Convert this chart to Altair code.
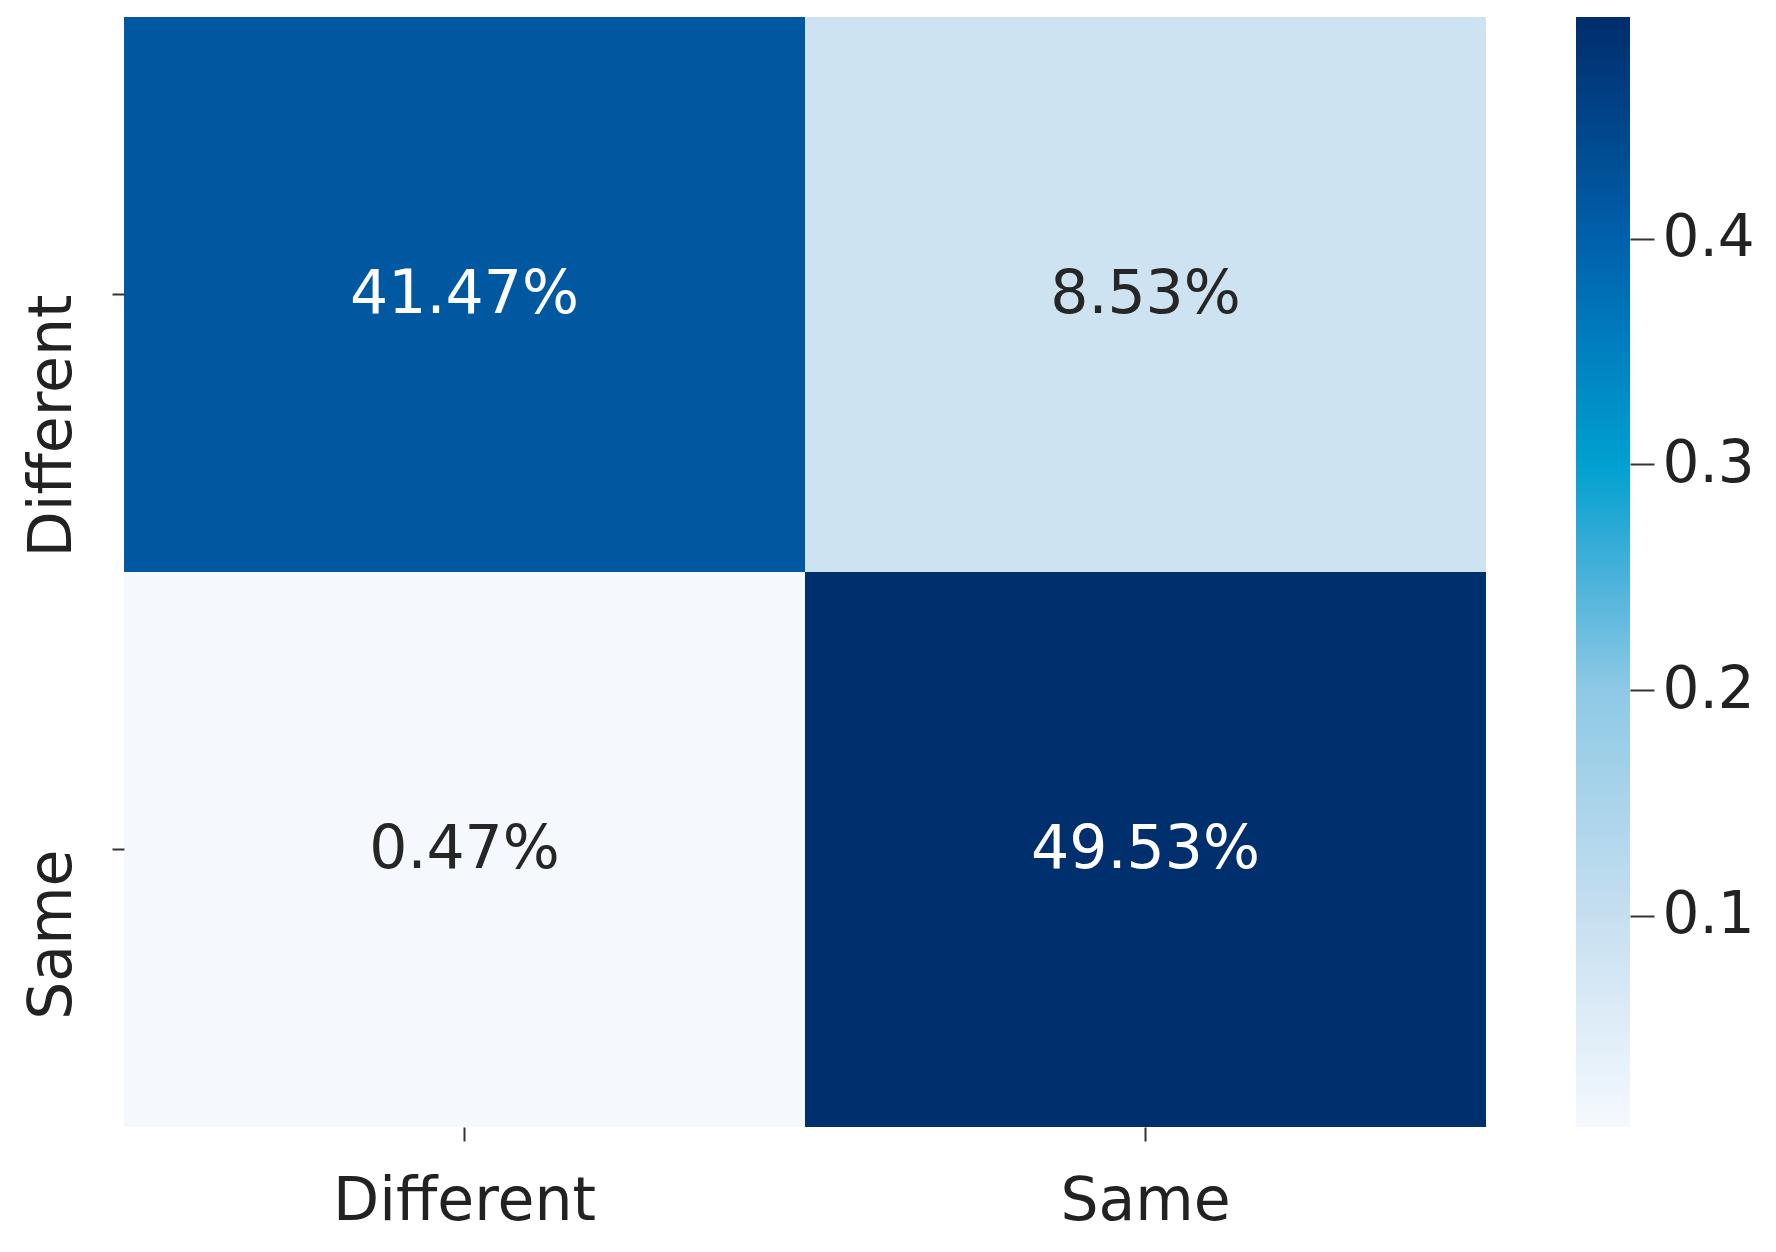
import altair as alt
import pandas as pd

# Confusion matrix (row = true, column = predicted), fractions of total
row_labels = ["Different", "Different", "Same", "Same"]
col_labels = ["Different", "Same", "Different", "Same"]
values = [0.4147, 0.0853, 0.0047, 0.4953]
categories = ["Different", "Same"]
cbar_ticks = [0.1, 0.2, 0.3, 0.4]
cbar_limits = [0.0065, 0.4982]  # colour bar range

df = pd.DataFrame({"row": row_labels, "col": col_labels, "value": values})
vmin, vmax = cbar_limits
cb = pd.DataFrame({"lo": [vmin], "hi": [vmax]})

# colour map (saturated "Blues")
cmap_vals = [vmin, 0.1, 0.2, 0.25, 0.3, 0.35, 0.4, vmax]
cmap_cols = ["#f5f9fe", "#c6dff0", "#8ec9e5", "#4ab2da", "#00a0d0", "#0080c0", "#0060ab", "#002d6b"]

FONT = "DejaVu Sans"
W, H = 1362, 1110

color_scale = alt.Scale(domain=cmap_vals, range=cmap_cols, interpolate="rgb", clamp=True)

base = alt.Chart(df).encode(
    x=alt.X("col:N", sort=categories, title=None,
            axis=alt.Axis(labelAngle=0, labelFontSize=60, labelFont=FONT, labelColor="#222",
                          tickSize=14, tickColor="#333", tickWidth=2, domain=False,
                          labelPadding=31, labelLimit=0)),
    y=alt.Y("row:N", sort=categories, title=None,
            axis=alt.Axis(labelAngle=270, labelAlign="right", labelFontSize=60, labelFont=FONT,
                          labelColor="#222", tickSize=12, tickColor="#333", tickWidth=2,
                          domain=False, labelPadding=29, labelLimit=0)),
)

rects = base.mark_rect(stroke=None).encode(
    color=alt.Color("value:Q", scale=color_scale, legend=None)
)
texts = base.mark_text(font=FONT, fontSize=60).encode(
    text=alt.Text("value:Q", format=".2%"),
    color=alt.condition(alt.datum.value > 0.25, alt.value("#ffffff"), alt.value("#262626")),
)
heat = alt.layer(rects, texts).properties(width=W, height=H)

stops = [alt.GradientStop(offset=(v - vmin) / (vmax - vmin), color=c) for v, c in zip(cmap_vals, cmap_cols)]
grad = alt.LinearGradient(gradient="linear", stops=stops, x1=0, x2=0, y1=1, y2=0)

cbar = alt.Chart(cb).mark_rect(color=grad).encode(
    y=alt.Y("lo:Q", scale=alt.Scale(domain=[vmin, vmax], nice=False, zero=False), title=None,
            axis=alt.Axis(orient="right", values=cbar_ticks, format=".1f", labelFontSize=58,
                          labelFont=FONT, labelColor="#222", tickSize=24, tickWidth=2,
                          tickColor="#333", domain=False, grid=False, labelPadding=8)),
    y2="hi:Q",
    x=alt.value(0),
    x2=alt.value(54),
).properties(width=54, height=H)

chart = alt.hconcat(heat, cbar, spacing=90).properties(
    padding={"left": 14, "top": 9, "right": 5, "bottom": 5}
).configure_view(stroke=None)

chart.save("out.html", embed_options={"renderer": "svg", "actions": False})
